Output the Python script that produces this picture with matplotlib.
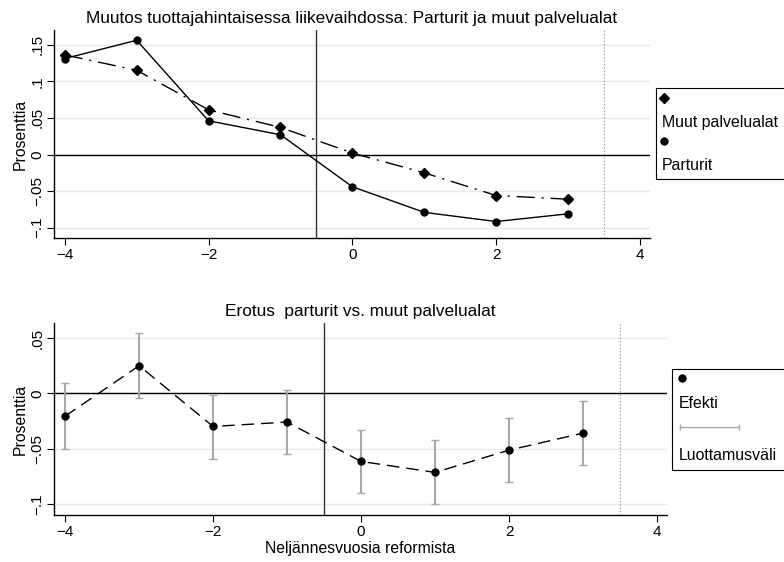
import numpy as np
import matplotlib.pyplot as plt
from matplotlib.patches import Rectangle
from matplotlib.lines import Line2D

plt.rcParams['font.family'] = ['Liberation Sans', 'DejaVu Sans']

# data
quarters = [-4, -3, -2, -1, 0, 1, 2, 3]
parturit = [0.131, 0.156, 0.046, 0.027, -0.044, -0.079, -0.0915, -0.081]
muut = [0.136, 0.115, 0.061, 0.037, 0.002, -0.025, -0.056, -0.061]
efekti = [-0.0207, 0.0249, -0.030, -0.026, -0.0616, -0.0715, -0.0514, -0.036]
ci_high = [0.009, 0.0543, -0.0012, 0.003, -0.033, -0.0423, -0.0219, -0.0069]
ci_low = [-0.0505, -0.0039, -0.059, -0.0547, -0.0904, -0.1003, -0.080, -0.0649]

top_yticks = [-0.1, -0.05, 0, 0.05, 0.1, 0.15]
top_ylabels = ['\u2212.1', '\u2212.05', '0', '.05', '.1', '.15']
bot_yticks = [-0.1, -0.05, 0, 0.05]
bot_ylabels = ['\u2212.1', '\u2212.05', '0', '.05']
xticks = [-4, -2, 0, 2, 4]
xlabels = ['\u22124', '\u22122', '0', '2', '4']

W, H = 784, 562
TICK_FS = 11
LABEL_FS = 11.3
TITLE_FS = 12.4
LEG_FS = 11.4


def style_axes(ax, yticks, ylabels):
    for s in ['top', 'right']:
        ax.spines[s].set_visible(False)
    ax.spines['left'].set_linewidth(1.0)
    ax.spines['bottom'].set_linewidth(1.0)
    ax.set_xticks(xticks)
    ax.set_xticklabels(xlabels, fontsize=TICK_FS)
    ax.set_yticks(yticks)
    ax.set_yticklabels(ylabels, fontsize=TICK_FS, rotation=90, va='center')
    ax.tick_params(length=5, width=0.8, pad=2)
    for y in yticks:
        ax.axhline(y, color='#e8e8e8', lw=1.0, zorder=0)
    ax.axhline(0, color='black', lw=1.0, zorder=1)
    ax.axvline(-0.5, color='#333333', lw=1.0, zorder=1)
    ax.axvline(3.5, color='#888888', lw=0.8, ls=(0, (1, 2)), zorder=1)
    ax.set_ylabel('Prosenttia', fontsize=LABEL_FS, labelpad=2)


fig = plt.figure(figsize=(W / 100, H / 100), dpi=100)

# top panel
ax1 = fig.add_axes([54 / W, 1 - 238 / H, (650 - 54) / W, (238 - 30) / H])
ax1.plot(quarters, muut, color='black', lw=1.0, ls=(0, (13, 5, 1.5, 5)),
         marker='D', ms=5.5, zorder=3)
ax1.plot(quarters, parturit, color='black', lw=1.0, marker='o', ms=5, zorder=3)
ax1.set_xlim(-4.15, 4.14)
ax1.set_ylim(-0.114, 0.17)
style_axes(ax1, top_yticks, top_ylabels)
ax1.set_title('Muutos tuottajahintaisessa liikevaihdossa: Parturit ja muut palvelualat',
              fontsize=TITLE_FS, pad=5)

# bottom panel
ax2 = fig.add_axes([54 / W, 1 - 515 / H, (667 - 54) / W, (515 - 323) / H])
yerr = [np.array(efekti) - np.array(ci_low), np.array(ci_high) - np.array(efekti)]
ax2.errorbar(quarters, efekti, yerr=yerr, fmt='none', ecolor='#a8a8a8',
             elinewidth=1.5, capsize=3, capthick=1.0, zorder=2)
ax2.plot(quarters, efekti, color='black', lw=1.0, ls=(0, (9, 5)),
         marker='o', ms=5, zorder=3)
ax2.set_xlim(-4.15, 4.135)
ax2.set_ylim(-0.11, 0.0635)
style_axes(ax2, bot_yticks, bot_ylabels)
ax2.set_title('Erotus  parturit vs. muut palvelualat', fontsize=TITLE_FS, pad=5)
ax2.set_xlabel('Neljännesvuosia reformista', fontsize=LABEL_FS, labelpad=2)


# legends drawn Stata-style (marker above label)
def fx(px):
    return px / W


def fy(py):
    return 1 - py / H


fig.patches.append(Rectangle((fx(656), fy(179)), fx(140), (179 - 88) / H,
                             transform=fig.transFigure, fill=False,
                             ec='black', lw=0.8))
fig.lines.append(Line2D([fx(664)], [fy(98)], marker='D', ms=5, color='black',
                        transform=fig.transFigure))
fig.text(fx(662), fy(122), 'Muut palvelualat', fontsize=LEG_FS, va='center')
fig.lines.append(Line2D([fx(664)], [fy(141)], marker='o', ms=5, color='black',
                        transform=fig.transFigure))
fig.text(fx(662), fy(165), 'Parturit', fontsize=LEG_FS, va='center')

fig.patches.append(Rectangle((fx(672), fy(470)), fx(140), (470 - 369) / H,
                             transform=fig.transFigure, fill=False,
                             ec='black', lw=0.8))
fig.lines.append(Line2D([fx(682)], [fy(378)], marker='o', ms=5, color='black',
                        transform=fig.transFigure))
fig.text(fx(679), fy(403), 'Efekti', fontsize=LEG_FS, va='center')
fig.lines.append(Line2D([fx(680), fx(739)], [fy(427), fy(427)], color='#a8a8a8',
                        lw=1.0, marker='|', ms=4, transform=fig.transFigure))
fig.text(fx(679), fy(456), 'Luottamusväli', fontsize=LEG_FS, va='center')

fig.savefig('out.png', dpi=100)
